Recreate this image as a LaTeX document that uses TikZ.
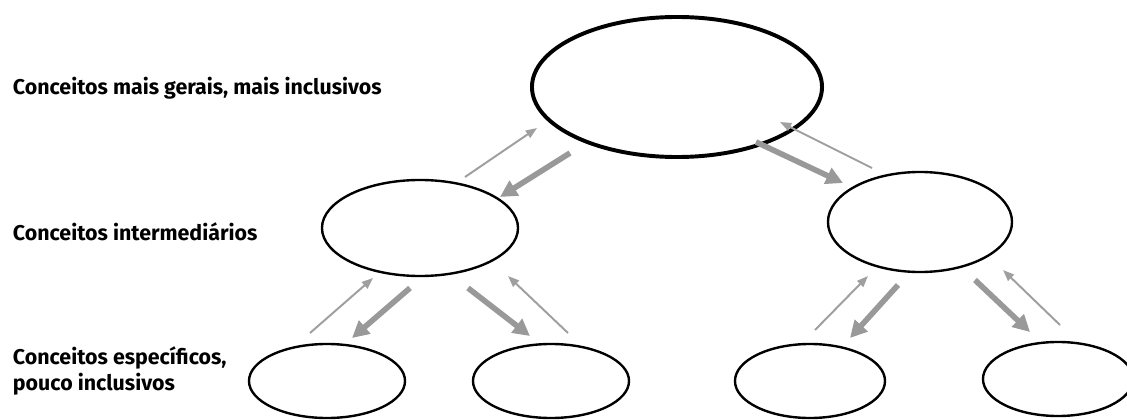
\documentclass[tikz,border=0pt]{standalone}
\usepackage{fontspec}
\setmainfont{Fira Sans}
\usetikzlibrary{shapes.geometric, arrows.meta}

\begin{document}
\begin{tikzpicture}[x = 0.025cm, y = -0.025cm]
\useasboundingbox (0, 0) rectangle (1127, 420);

\tikzset{
  concept/.style = {draw = black, shape = ellipse, line width = 1.7pt},
  level/.style = {anchor = west, align = left, font = \bfseries\fontsize{15.2}{19}\selectfont},
  upthin/.style = {draw = gray!75, line width = 1.4pt, -{Triangle[length = 8pt, width = 6pt]}},
  downthick/.style = {draw = gray!80, line width = 4pt, -{Triangle[length = 12pt, width = 12pt]}}
}

% niveis
\node [level] (lgeral) at (8, 88) {Conceitos mais gerais, mais inclusivos};
\node [level] (linter) at (8, 232) {Conceitos intermediários};
\node [level] (lespec) at (8, 371) {Conceitos específicos,\\pouco inclusivos};

% elipses
\node [concept, line width = 2.8pt, minimum width = 7.25cm, minimum height = 3.5cm] (top) at (677, 87) {};
\node [concept, minimum width = 4.9cm, minimum height = 2.4cm] (midl) at (420, 228) {};
\node [concept, minimum width = 4.6cm, minimum height = 2.5cm] (midr) at (920, 222) {};
\node [concept, minimum width = 3.9cm, minimum height = 1.85cm] (bot0) at (327, 381) {};
\node [concept, minimum width = 3.9cm, minimum height = 1.85cm] (bot1) at (551, 381) {};
\node [concept, minimum width = 3.75cm, minimum height = 1.85cm] (bot2) at (810, 381) {};
\node [concept, minimum width = 3.75cm, minimum height = 1.85cm] (bot3) at (1058, 379) {};

% pontas das setas
\coordinate (a0) at (465, 177);  \coordinate (a1) at (537, 128);
\coordinate (b0) at (570, 153);  \coordinate (b1) at (500, 197);
\coordinate (c0) at (756, 142);  \coordinate (c1) at (843, 183);
\coordinate (d0) at (872, 168);  \coordinate (d1) at (780, 122);
\coordinate (e0) at (310, 333);  \coordinate (e1) at (373, 278);
\coordinate (f0) at (410, 288);  \coordinate (f1) at (352, 338);
\coordinate (g0) at (468, 288);  \coordinate (g1) at (530, 336);
\coordinate (h0) at (568, 333);  \coordinate (h1) at (508, 276);
\coordinate (i0) at (815, 330);  \coordinate (i1) at (868, 276);
\coordinate (j0) at (898, 285);  \coordinate (j1) at (850, 338);
\coordinate (k0) at (975, 280);  \coordinate (k1) at (1030, 332);
\coordinate (l0) at (1060, 325); \coordinate (l1) at (1003, 270);

\path [upthin] (a0) -- (a1);
\path [downthick] (b0) -- (b1);
\path [downthick] (c0) -- (c1);
\path [upthin] (d0) -- (d1);
\path [upthin] (e0) -- (e1);
\path [downthick] (f0) -- (f1);
\path [downthick] (g0) -- (g1);
\path [upthin] (h0) -- (h1);
\path [upthin] (i0) -- (i1);
\path [downthick] (j0) -- (j1);
\path [downthick] (k0) -- (k1);
\path [upthin] (l0) -- (l1);
\end{tikzpicture}
\end{document}
